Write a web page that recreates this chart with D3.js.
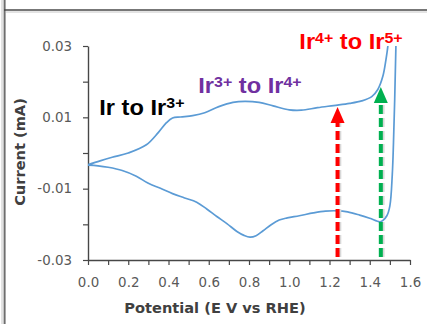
<!DOCTYPE html>
<html>
<head>
<meta charset="utf-8">
<script src="https://cdn.jsdelivr.net/npm/d3@7/dist/d3.min.js"></script>
<style>
  html, body { margin: 0; padding: 0; background: #fff; }
  svg { display: block; }
</style>
</head>
<body>
<svg id="chart" width="427" height="324"></svg>
<script>
// Cyclic voltammogram: anodic sweep followed by the cathodic return sweep.
// The turning point lies above the plotted current range and is clipped.
const scanPotential = [
  0, 0.06, 0.12, 0.2, 0.29, 0.35, 0.39, 0.42, 0.46, 0.52, 0.58, 0.65, 0.72, 0.78,
  0.85, 0.92, 1.0, 1.06, 1.14, 1.22, 1.3, 1.36, 1.41, 1.44, 1.465, 1.48, 1.49,
  1.497, 1.534,
  1.53, 1.524, 1.518, 1.512, 1.5, 1.485, 1.467, 1.451, 1.4, 1.35, 1.29, 1.236,
  1.18, 1.12, 1.05, 0.99, 0.95, 0.91, 0.87, 0.835, 0.805, 0.775, 0.74, 0.69,
  0.64, 0.59, 0.54, 0.48, 0.42, 0.36, 0.3, 0.24, 0.17, 0.1, 0.05, 0
];
const scanCurrent = [
  -0.0033, -0.0022, -0.0012, 0.0, 0.0023, 0.0058, 0.0085, 0.0098, 0.0101, 0.0105,
  0.0113, 0.013, 0.0142, 0.0145, 0.0142, 0.0132, 0.0121, 0.012, 0.0127, 0.0133,
  0.0139, 0.0146, 0.0158, 0.0178, 0.0215, 0.026, 0.030,
  0.036, 0.036,
  0.030, 0.015, 0.003, -0.006, -0.0148, -0.0176, -0.0188, -0.0193, -0.0183,
  -0.0174, -0.0165, -0.0162, -0.0163, -0.0168, -0.0176, -0.0182, -0.0188,
  -0.0201, -0.0218, -0.0232, -0.0236, -0.0231, -0.022, -0.0198, -0.0178,
  -0.0157, -0.0138, -0.0126, -0.0114, -0.0099, -0.0085, -0.0065, -0.0049,
  -0.004, -0.0036, -0.0034
];

// Axis ticks and their labels
const xTicks = [0, 0.1, 0.2, 0.3, 0.4, 0.5, 0.6, 0.7, 0.8, 0.9, 1.0, 1.1, 1.2, 1.3, 1.4, 1.5, 1.6];
const xTickLabels = ["0.0", "", "0.2", "", "0.4", "", "0.6", "", "0.8", "", "1.0", "", "1.2", "", "1.4", "", "1.6"];
const yTicks = [-0.03, -0.02, -0.01, 0, 0.01, 0.02, 0.03];
const yTickLabels = ["-0.03", "", "-0.01", "", "0.01", "", "0.03"];

// Redox transition markers (potential, current at the arrow tip)
const markerPotential = [1.24, 1.455];
const markerTip = [0.0129, 0.0185];
const markerColor = ["#ff0000", "#00b050"];

// Transition labels: base text, superscripts, anchor in data units, colour
const labelParts = [
  [["Ir to Ir", false], ["3+", true]],
  [["Ir", false], ["3+", true], [" to Ir", false], ["4+", true]],
  [["Ir", false], ["4+", true], [" to Ir", false], ["5+", true]]
];
const labelPotential = [0.056, 0.548, 1.05];
const labelCurrent = [0.0107, 0.0167, 0.0291];
const labelColor = ["#000000", "#7030a0", "#ff0000"];

const svg = d3.select("#chart");

// Outer frame
svg.append("line").attr("x1", 2).attr("x2", 2).attr("y1", 0).attr("y2", 324)
  .attr("stroke", "#c4c4c4").attr("stroke-width", 1);
svg.append("line").attr("x1", 4.6).attr("x2", 4.6).attr("y1", 0).attr("y2", 324)
  .attr("stroke", "#6e6e6e").attr("stroke-width", 2);
svg.append("line").attr("x1", 4).attr("x2", 427).attr("y1", 10).attr("y2", 10)
  .attr("stroke", "#4a4a4a").attr("stroke-width", 1.6);
svg.append("line").attr("x1", 6).attr("x2", 427).attr("y1", 12).attr("y2", 12)
  .attr("stroke", "#c8c8c8").attr("stroke-width", 1);

const x = d3.scaleLinear().domain([0, 1.6]).range([88, 410]);
const y = d3.scaleLinear().domain([-0.03, 0.03]).range([260, 46]);

// Plot-area clip
svg.append("clipPath").attr("id", "plot-clip")
  .append("rect")
  .attr("x", x(0)).attr("y", y(0.03))
  .attr("width", 427 - x(0)).attr("height", y(-0.03) - y(0.03));

const axisColor = "#474747";
const tickText = "#595959";

// X axis
const gx = svg.append("g").attr("transform", `translate(0,${y(-0.03)})`)
  .call(d3.axisBottom(x).tickValues(xTicks).tickSize(5).tickSizeOuter(0)
    .tickPadding(12).tickFormat((d, i) => xTickLabels[i]));
// Y axis
const gy = svg.append("g").attr("transform", `translate(${x(0)},0)`)
  .call(d3.axisLeft(y).tickValues(yTicks).tickSize(5).tickSizeOuter(0)
    .tickPadding(11).tickFormat((d, i) => yTickLabels[i]));

[gx, gy].forEach(g => {
  g.select(".domain").attr("stroke", axisColor).attr("stroke-width", 1.4);
  g.selectAll(".tick line").attr("stroke", axisColor).attr("stroke-width", 1.2);
  g.selectAll(".tick text").attr("fill", tickText)
    .style("font-family", "'DejaVu Sans', sans-serif").style("font-size", "13.4px");
});

// Axis titles
svg.append("text")
  .attr("x", 215).attr("y", 313)
  .attr("text-anchor", "middle")
  .style("font-family", "'DejaVu Sans', sans-serif")
  .style("font-weight", "bold").style("font-size", "14.6px")
  .attr("fill", "#404040")
  .text("Potential (E V vs RHE)");
svg.append("text")
  .attr("transform", "translate(25,152) rotate(-90)")
  .attr("text-anchor", "middle")
  .style("font-family", "'DejaVu Sans', sans-serif")
  .style("font-weight", "bold").style("font-size", "14.6px")
  .attr("fill", "#404040")
  .text("Current (mA)");

// Voltammogram trace
const loop = scanPotential.map((v, i) => [v, scanCurrent[i]]);
svg.append("path")
  .datum(loop)
  .attr("clip-path", "url(#plot-clip)")
  .attr("fill", "none")
  .attr("stroke", "#5b9bd5")
  .attr("stroke-width", 1.7)
  .attr("stroke-linejoin", "round")
  .attr("d", d3.line().x(d => x(d[0])).y(d => y(d[1])).curve(d3.curveCatmullRom.alpha(0.5)));

// Dashed marker arrows
const headW = 14, headH = 16;
markerPotential.forEach((v, i) => {
  const cx = x(v), tip = y(markerTip[i]);
  const g = svg.append("g");
  // soft shadow
  g.append("line")
    .attr("x1", cx + 1.5).attr("x2", cx + 1.5)
    .attr("y1", y(-0.03) - 3).attr("y2", tip + headH)
    .attr("stroke", "#d8d8d8").attr("stroke-width", 4.5)
    .attr("stroke-dasharray", "9,4");
  g.append("line")
    .attr("x1", cx).attr("x2", cx)
    .attr("y1", y(-0.03) - 3).attr("y2", tip + headH - 1)
    .attr("stroke", markerColor[i]).attr("stroke-width", 4)
    .attr("stroke-dasharray", "9,4");
  g.append("path")
    .attr("d", `M${cx},${tip} L${cx + headW / 2},${tip + headH} L${cx - headW / 2},${tip + headH} Z`)
    .attr("fill", markerColor[i]);
});

// Transition labels with superscript charges
labelParts.forEach((parts, i) => {
  const t = svg.append("text")
    .attr("transform", `translate(${x(labelPotential[i])},${y(labelCurrent[i])}) scale(1.1,1)`)
    .style("font-family", "'Liberation Sans', Arial, sans-serif")
    .style("font-weight", "bold")
    .attr("fill", labelColor[i]);
  parts.forEach(([str, sup]) => {
    t.append("tspan")
      .attr("baseline-shift", sup ? "6.5px" : null)
      .style("font-size", sup ? "14.5px" : "21.5px")
      .text(str);
  });
});
</script>
</body>
</html>
